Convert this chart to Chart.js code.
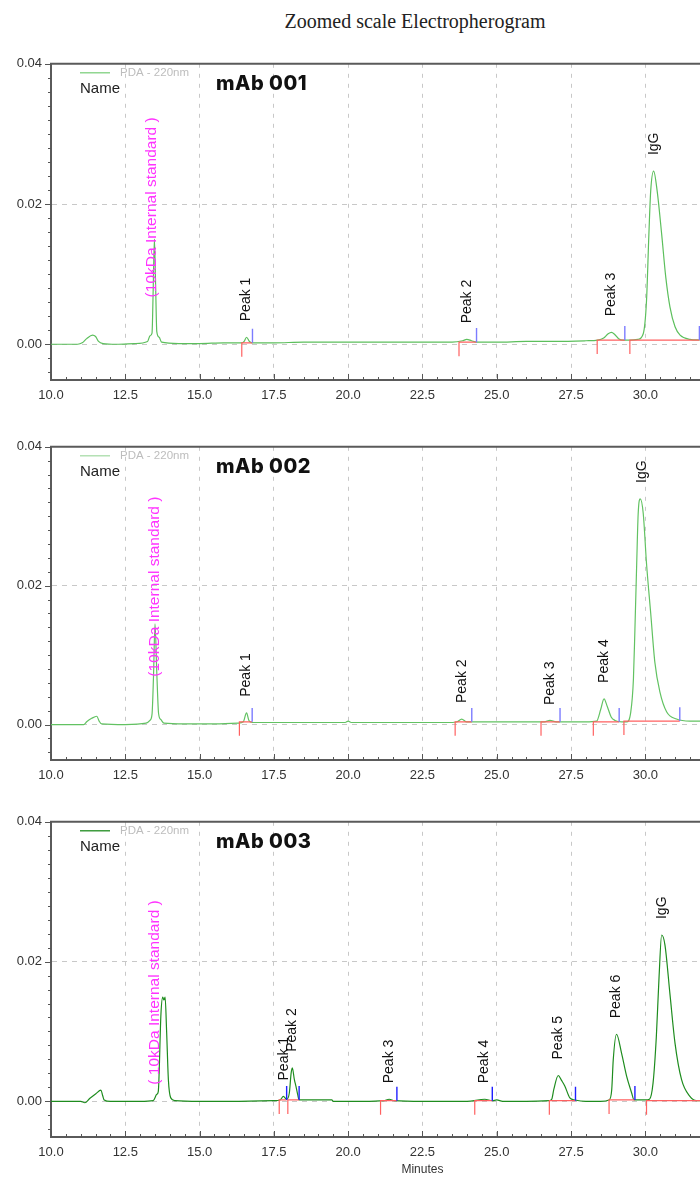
<!DOCTYPE html>
<html>
<head>
<meta charset="utf-8">
<title>Zoomed scale Electropherogram</title>
<script src="https://cdn.jsdelivr.net/npm/chart.js@4.4.1/dist/chart.umd.min.js"></script>
<style>
  html, body { margin: 0; padding: 0; background: #fff; }
  body { width: 700px; height: 1178px; position: relative; overflow: hidden; }
  #title {
    position: absolute; top: 10px; left: 415px; transform: translateX(-50%);
    white-space: nowrap; font-family: "Liberation Serif", "DejaVu Serif", serif;
    font-size: 20px; color: #222;
  }
  canvas { position: absolute; left: 0; }
</style>
</head>
<body>
<div id="title">Zoomed scale Electropherogram</div>
<canvas id="c1" width="700" height="363" style="top:47px"></canvas>
<canvas id="c2" width="700" height="360" style="top:430px"></canvas>
<canvas id="c3" width="700" height="373" style="top:805px"></canvas>
<script>
// axis ticks shared by the three runs (minutes / AU)
const xTicks = [10.0, 12.5, 15.0, 17.5, 20.0, 22.5, 25.0, 27.5, 30.0];
const yTicks = [0.00, 0.02, 0.04];

// ---- mAb 001 ----
const time1 = [10.0, 10.9, 11.05, 11.2, 11.4, 11.5, 11.6, 11.75, 12.2, 12.8, 13.25, 13.33, 13.40, 13.44, 13.48, 13.52, 13.56, 13.64, 13.72,
  14.3, 15.0, 15.8, 16.42, 16.5, 16.58, 16.68, 16.78, 17.5, 18.5, 19.5, 20.5, 21.5, 22.5, 23.5, 23.85, 23.99, 24.15, 24.32,
  25.0, 26.0, 27.0, 28.0, 28.4, 28.6, 28.75, 28.86, 28.97, 29.1, 29.25, 29.5, 29.75, 29.93, 30.04, 30.12, 30.18, 30.28,
  30.40, 30.55, 30.69, 30.83, 31.0, 31.17, 31.5, 31.85];
const au1 = [0.0000, 0.0000, 0.0002, 0.0008, 0.0013, 0.0011, 0.0004, 0.0001, 0.0000, 0.0001, 0.0004, 0.0012, 0.0016, 0.0080, 0.0150, 0.0085, 0.0018, 0.0010, 0.0003,
  0.0001, 0.0001, 0.0002, 0.0002, 0.0004, 0.0010, 0.0004, 0.0002, 0.0002, 0.0003, 0.0003, 0.0003, 0.0003, 0.0003, 0.0003, 0.0005, 0.0007, 0.0005, 0.0003,
  0.0003, 0.0004, 0.0004, 0.0005, 0.0006, 0.0009, 0.0015, 0.0017, 0.0014, 0.0008, 0.0006, 0.0006, 0.0007, 0.0015, 0.0062, 0.0157, 0.0218, 0.0247,
  0.0218, 0.0157, 0.0095, 0.0053, 0.0025, 0.0013, 0.0007, 0.0006];
const labels1 = ['(10kDa Internal standard )', 'Peak 1', 'Peak 2', 'Peak 3', 'IgG'];
const labelTime1 = [13.40, 16.58, 23.99, 28.86, 30.28];
const labelAu1 = [0.0044, 0.0010, 0.0007, 0.0017, 0.0247];
const startTime1 = [16.42, 23.73, 28.38, 29.48];
const endTime1 = [16.78, 24.32, 29.31, 31.82];
const baseAu1 = [0.0002, 0.0003, 0.0006, 0.0006];

// ---- mAb 002 ----
const time2 = [10.0, 11.1, 11.2, 11.37, 11.54, 11.62, 11.7, 12.5, 13.2, 13.33, 13.40, 13.45, 13.50, 13.56, 13.62, 13.70, 13.80,
  14.5, 15.5, 16.3, 16.47, 16.58, 16.66, 16.77, 17.5, 19.0, 19.9, 20.0, 20.1, 21.0, 22.5, 23.5, 23.67, 23.82, 23.99, 24.5,
  26.0, 26.6, 26.79, 27.0, 28.0, 28.36, 28.5, 28.61, 28.72, 28.85, 28.98, 29.2, 29.37, 29.51, 29.60, 29.65, 29.71, 29.76, 29.83,
  29.93, 30.04, 30.18, 30.32, 30.49, 30.72, 31.05, 31.5, 31.85];
const au2 = [0.0000, 0.0000, 0.0004, 0.0009, 0.0012, 0.0005, 0.0001, 0.0000, 0.0002, 0.0006, 0.0015, 0.0070, 0.0145, 0.0075, 0.0016, 0.0007, 0.0002,
  0.0001, 0.0001, 0.0002, 0.0004, 0.0017, 0.0006, 0.0003, 0.0003, 0.0003, 0.0003, 0.0005, 0.0003, 0.0003, 0.0003, 0.0003, 0.0004, 0.0008, 0.0004, 0.0004,
  0.0004, 0.0004, 0.0006, 0.0004, 0.0004, 0.0005, 0.0022, 0.0037, 0.0026, 0.0011, 0.0006, 0.0004, 0.0004, 0.0018, 0.0066, 0.0137, 0.0232, 0.0304, 0.0325,
  0.0304, 0.0232, 0.0161, 0.0090, 0.0047, 0.0018, 0.0008, 0.0005, 0.0005];
const labels2 = ['(10kDa Internal standard )', 'Peak 1', 'Peak 2', 'Peak 3', 'Peak 4', 'IgG'];
const labelTime2 = [13.50, 16.58, 23.82, 26.79, 28.61, 29.90];
const labelAu2 = [0.0046, 0.0017, 0.0008, 0.0005, 0.0037, 0.0325];
const startTime2 = [16.34, 23.60, 26.49, 28.25, 29.28];
const endTime2 = [16.77, 24.16, 27.13, 29.12, 31.16];
const baseAu2 = [0.0004, 0.0004, 0.0004, 0.0004, 0.0005];

// ---- mAb 003 ----
const time3 = [10.0, 11.0, 11.14, 11.3, 11.51, 11.68, 11.74, 11.79, 12.0, 13.0, 13.44, 13.56, 13.61, 13.70, 13.76, 13.80, 13.84, 13.89, 13.95, 14.03, 14.17,
  15.0, 16.0, 17.5, 17.71, 17.82, 17.93, 18.02, 18.08, 18.12, 18.19, 18.24, 18.30, 18.35, 19.0, 19.45, 19.5, 20.5, 21.2, 21.38, 21.55,
  22.5, 24.0, 24.6, 24.85, 25.0, 25.2, 26.0, 26.77, 26.85, 26.92, 27.07, 27.18, 27.29, 27.46, 27.63, 28.0, 28.5, 28.78, 28.87, 28.92,
  29.03, 29.20, 29.37, 29.54, 29.62, 30.0, 30.14, 30.26, 30.37, 30.46, 30.55, 30.66, 30.83, 31.00, 31.22, 31.50, 31.72, 31.85];
const au3 = [0.0000, 0.0000, -0.0002, 0.0004, 0.0011, 0.0016, 0.0008, 0.0002, 0.0000, 0.0000, 0.0001, 0.0010, 0.0014, 0.0125, 0.0149, 0.0145, 0.0149, 0.0101, 0.0031, 0.0005, 0.0001,
  0.0000, 0.0000, 0.0001, 0.0002, 0.0007, 0.0003, 0.0012, 0.0040, 0.0048, 0.0031, 0.0022, 0.0010, 0.0002, 0.0002, 0.0002, 0.0000, 0.0000, 0.0001, 0.0003, 0.0001,
  0.0000, 0.0000, 0.0003, 0.0001, 0.0002, 0.0000, 0.0000, 0.0001, 0.0003, 0.0017, 0.0037, 0.0030, 0.0022, 0.0005, 0.0002, 0.0000, 0.0000, 0.0002, 0.0017, 0.0059,
  0.0096, 0.0069, 0.0036, 0.0012, 0.0002, 0.0002, 0.0003, 0.0026, 0.0092, 0.0176, 0.0238, 0.0224, 0.0153, 0.0083, 0.0031, 0.0007, 0.0001, 0.0001];
const labels3 = ['( 10kDa Internal standard )', 'Peak 1', 'Peak 2', 'Peak 3', 'Peak 4', 'Peak 5', 'Peak 6', 'IgG'];
const labelTime3 = [13.50, 17.83, 18.13, 21.38, 24.57, 27.08, 29.03, 30.57];
const labelAu3 = [0.0001, 0.0007, 0.0048, 0.0003, 0.0003, 0.0037, 0.0096, 0.0238];
const startTime3 = [17.68, 17.97, 21.09, 24.26, 26.77, 28.78, 30.04];
const endTime3 = [17.93, 18.35, 21.64, 24.85, 27.65, 29.65, 32.2];
const baseAu3 = [0.0002, 0.0002, 0.0001, 0.0001, 0.0001, 0.0002, 0.0001];

const X_MIN = 10, X_MAX = 31.84, Y_MIN = -0.0051, Y_MAX = 0.04;
const TICK_AU = 0.002;   // length of the red/blue integration marks in AU
const SANS = '"Liberation Sans", Arial, sans-serif';

Chart.defaults.font.family = SANS;
Chart.defaults.color = '#333';

function points(xs, ys) {
  return xs.map((x, i) => ({ x: x, y: ys[i] }));
}

// red: drop line at peak start + baseline; blue: tick at peak end
function startMarks(st, en, base) {
  const out = [];
  st.forEach((s, i) => {
    out.push({ x: s, y: base[i] - TICK_AU }, { x: s, y: base[i] }, { x: en[i], y: base[i] }, { x: en[i], y: null });
  });
  return out;
}
function endMarks(en, base) {
  const out = [];
  en.forEach((e, i) => {
    out.push({ x: e, y: base[i] }, { x: e, y: base[i] + TICK_AU }, { x: e, y: null });
  });
  return out;
}

const decor = {
  id: 'decor',
  afterDatasetsDraw(chart, args, o) {
    const ctx = chart.ctx, a = chart.chartArea;
    const xs = chart.scales.x, ys = chart.scales.y;
    ctx.save();

    // top frame
    ctx.strokeStyle = '#5a5a5a';
    ctx.lineWidth = 2;
    ctx.beginPath();
    ctx.moveTo(a.left - 1, a.top);
    ctx.lineTo(a.right + 2, a.top);
    ctx.stroke();

    // tick marks: x inward every 0.5 min, y outward every 0.002
    ctx.lineWidth = 1;
    ctx.strokeStyle = '#555';
    ctx.beginPath();
    for (let k = 0; k <= 60; k++) {
      const t = X_MIN + k * 0.5;
      if (t > xs.max) break;
      const px = Math.round(xs.getPixelForValue(t)) + 0.5;
      const len = k % 5 === 0 ? 6 : 3;
      ctx.moveTo(px, a.bottom);
      ctx.lineTo(px, a.bottom - len);
    }
    for (let k = -2; k <= 20; k++) {
      const v = k * 0.002;
      if (v < ys.min) continue;
      const py = Math.round(ys.getPixelForValue(v)) + 0.5;
      const len = k % 10 === 0 ? 6 : 3;
      ctx.moveTo(a.left - len, py);
      ctx.lineTo(a.left, py);
    }
    ctx.stroke();

    // legend block
    const lx = a.left + 29, ly = a.top + 9;
    ctx.strokeStyle = o.legendColor;
    ctx.lineWidth = 1.3;
    ctx.beginPath();
    ctx.moveTo(lx, ly);
    ctx.lineTo(lx + 30, ly);
    ctx.stroke();
    ctx.textBaseline = 'middle';
    ctx.textAlign = 'left';
    ctx.fillStyle = '#bdbdbd';
    ctx.font = '11.5px ' + SANS;
    ctx.fillText('PDA - 220nm', lx + 40, ly);
    ctx.fillStyle = '#222';
    ctx.font = '15px ' + SANS;
    ctx.fillText('Name', lx, a.top + 25);
    ctx.fillStyle = '#111';
    ctx.font = '800 20px Inter, "Noto Sans", sans-serif';
    ctx.letterSpacing = '0.5px';
    ctx.fillText(o.sample, 216, a.top + 20);
    ctx.letterSpacing = '0px';

    // peak labels, rotated, sitting above the apex
    o.names.forEach((n, i) => {
      const px = xs.getPixelForValue(o.times[i]);
      const py = ys.getPixelForValue(o.levels[i]) - 16;
      const isStd = n.indexOf('Internal') >= 0;
      ctx.save();
      ctx.translate(px, py);
      ctx.rotate(-Math.PI / 2);
      ctx.fillStyle = isStd ? '#ff33ff' : '#111';
      ctx.font = (isStd ? '15.5px ' : '14px ') + SANS;
      ctx.fillText(n, 0, 0);
      ctx.restore();
    });

    if (o.xTitle) {
      ctx.fillStyle = '#333';
      ctx.font = '12px ' + SANS;
      ctx.textAlign = 'center';
      ctx.fillText(o.xTitle, xs.getPixelForValue(22.5), a.bottom + 33);
    }
    ctx.restore();
  }
};

function makeChart(id, run) {
  return new Chart(document.getElementById(id), {
    type: 'line',
    data: {
      datasets: [
        { data: points(run.time, run.au), borderColor: run.trace, borderWidth: 1.2,
          pointRadius: 0, cubicInterpolationMode: 'monotone', order: 3 },
        { data: startMarks(run.start, run.end, run.base), borderColor: '#ff6060', borderWidth: 1.2,
          pointRadius: 0, tension: 0, order: 2 },
        { data: endMarks(run.end, run.base), borderColor: run.blue, borderWidth: 1.4,
          pointRadius: 0, tension: 0, order: 1 }
      ]
    },
    options: {
      responsive: false,
      animation: false,
      layout: { padding: { top: 10, right: 0, left: 0, bottom: 0 } },
      plugins: {
        legend: { display: false },
        tooltip: { enabled: false },
        decor: { sample: run.sample, legendColor: run.legend, names: run.names,
          times: run.labelTime, levels: run.labelAu, xTitle: run.xTitle }
      },
      scales: {
        x: {
          type: 'linear', min: X_MIN, max: X_MAX,
          afterBuildTicks: s => { s.ticks = xTicks.map(v => ({ value: v })); },
          afterFit: s => { s.height = run.xHeight; },
          ticks: { padding: 8, font: { size: 13 }, color: '#333', callback: v => v.toFixed(1) },
          grid: { color: '#c8c8c8', drawTicks: false },
          border: { color: '#5a5a5a', width: 2, dash: [4, 6] }
        },
        y: {
          min: Y_MIN, max: Y_MAX,
          afterBuildTicks: s => { s.ticks = yTicks.map(v => ({ value: v })); },
          afterFit: s => { s.width = 51; },
          ticks: { padding: 9, font: { size: 13 }, color: '#333', callback: v => v.toFixed(2) },
          grid: { color: '#c8c8c8', drawTicks: false },
          border: { color: '#5a5a5a', width: 2, dash: [5, 5] }
        }
      }
    },
    plugins: [decor]
  });
}

makeChart('c1', { sample: 'mAb 001', time: time1, au: au1, names: labels1, labelTime: labelTime1, labelAu: labelAu1,
  start: startTime1, end: endTime1, base: baseAu1, trace: '#5cbf5c', legend: '#7fd07f', blue: '#7c7cff', xHeight: 30 });
makeChart('c2', { sample: 'mAb 002', time: time2, au: au2, names: labels2, labelTime: labelTime2, labelAu: labelAu2,
  start: startTime2, end: endTime2, base: baseAu2, trace: '#62c262', legend: '#a8dca8', blue: '#7c7cff', xHeight: 30 });
makeChart('c3', { sample: 'mAb 003', time: time3, au: au3, names: labels3, labelTime: labelTime3, labelAu: labelAu3,
  start: startTime3, end: endTime3, base: baseAu3, trace: '#1e8c1e', legend: '#1e8c1e', blue: '#2020ff', xHeight: 41, xTitle: 'Minutes' });
</script>
</body>
</html>
